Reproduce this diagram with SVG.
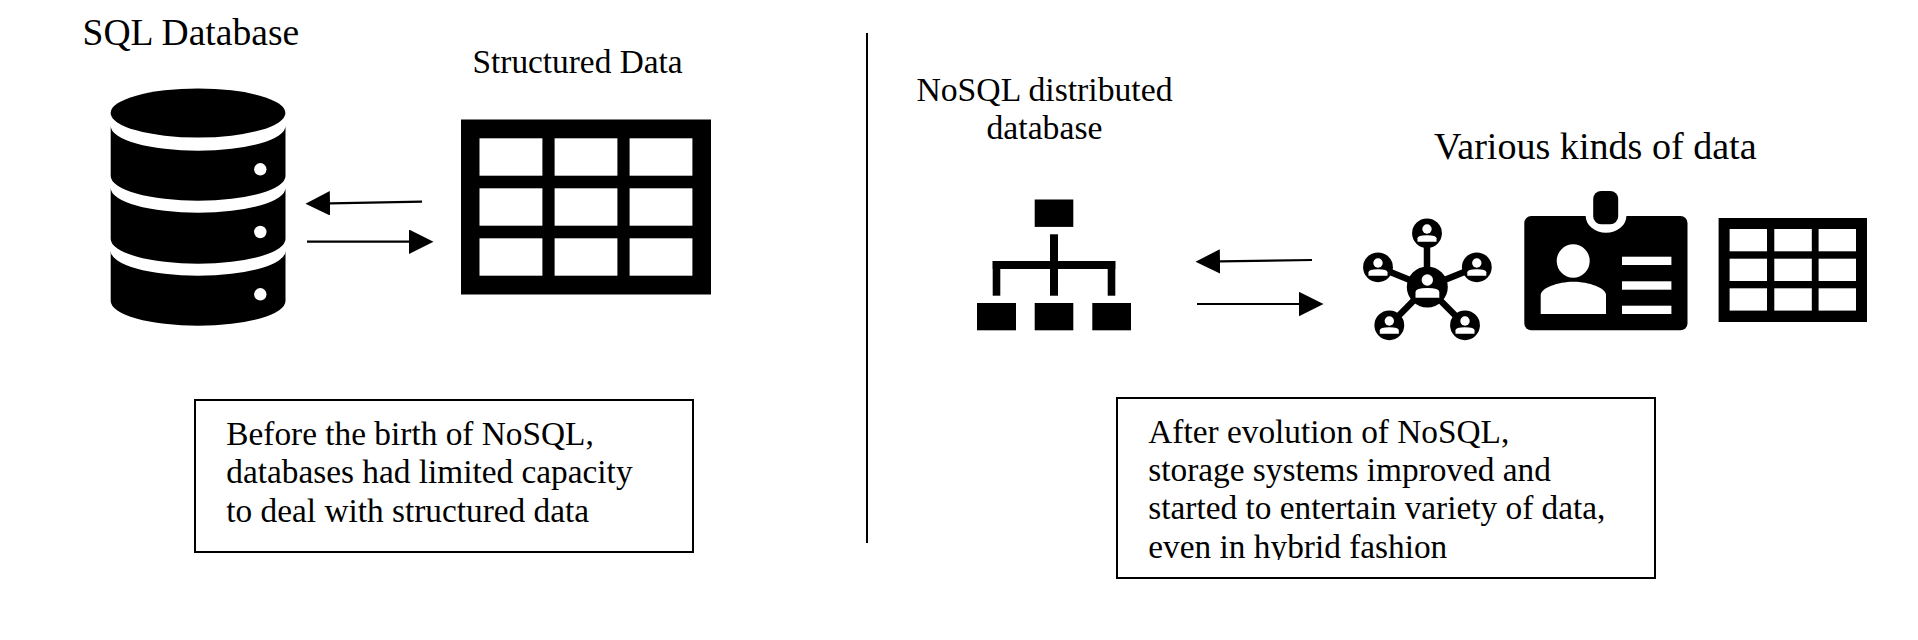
<svg xmlns="http://www.w3.org/2000/svg" width="1918" height="640" viewBox="0 0 1918 640">
<style>
text{font-family:"Liberation Serif","Times New Roman",serif;fill:#000}
.t33{font-size:33.35px}
.t37{font-size:37.6px}
.box{fill:#fff;stroke:#000;stroke-width:2}
.conn{fill:none;stroke:#000;stroke-width:2.2}
.w{fill:#fff}
.k{fill:#000}
.spoke{stroke:#000;stroke-width:6.5}
</style>
<defs>
<marker id="head" markerUnits="userSpaceOnUse" markerWidth="24.5" markerHeight="25" refX="0" refY="12.2" orient="auto"><path d="M0 0L24.5 12.2L0 24.4Z" fill="#000"/></marker>
<g id="dude"><circle class="k" r="14.9"/><circle class="w" cy="-4.3" r="4.7"/><path class="w" d="M-9.5 8.5V5Q-9.5 2 0 2Q9.5 2 9.5 5V8.5Z"/></g>
<clipPath id="lastLine"><rect x="1140" y="530" width="400" height="30"/></clipPath>
</defs>
<rect width="1918" height="640" fill="#fff"/>

<g id="sql-title"><text class="t37" x="82.5" y="44.5">SQL Database</text></g>
<g id="structured-title"><text class="t33" x="472.5" y="72.5">Structured Data</text></g>

<g id="sql-cylinder">
<ellipse class="k" cx="198" cy="113" rx="87.4" ry="24.5"/>
<path class="k" d="M110.7 126A87.4 24.7 0 0 0 285.5 126V176A87.4 24.7 0 0 1 110.7 176Z"/>
<path class="k" d="M110.7 188A87.4 24.7 0 0 0 285.5 188V239A87.4 24.7 0 0 1 110.7 239Z"/>
<path class="k" d="M110.7 251A87.4 24.7 0 0 0 285.5 251V301A87.4 24.7 0 0 1 110.7 301Z"/>
<circle class="w" cx="260.3" cy="169.3" r="6.2"/>
<circle class="w" cx="260.3" cy="232" r="6.2"/>
<circle class="w" cx="260.3" cy="294.3" r="6.2"/>
</g>

<g id="structured-table">
<rect class="k" x="461" y="119.5" width="250" height="175"/>
<rect class="w" x="479.5" y="138.3" width="62.9" height="37.4"/><rect class="w" x="554.6" y="138.3" width="62.8" height="37.4"/><rect class="w" x="629.6" y="138.3" width="62.8" height="37.4"/>
<rect class="w" x="479.5" y="188.3" width="62.9" height="37.4"/><rect class="w" x="554.6" y="188.3" width="62.8" height="37.4"/><rect class="w" x="629.6" y="188.3" width="62.8" height="37.4"/>
<rect class="w" x="479.5" y="238.3" width="62.9" height="37.4"/><rect class="w" x="554.6" y="238.3" width="62.8" height="37.4"/><rect class="w" x="629.6" y="238.3" width="62.8" height="37.4"/>
</g>

<g id="connectors">
<line class="conn" x1="422" y1="201.7" x2="330" y2="203.3" marker-end="url(#head)"/>
<line class="conn" x1="307" y1="241.7" x2="409" y2="241.7" marker-end="url(#head)"/>
<line class="conn" x1="1312" y1="260" x2="1220" y2="261.4" marker-end="url(#head)"/>
<line class="conn" x1="1197" y1="304" x2="1299" y2="304" marker-end="url(#head)"/>
</g>

<g id="divider"><line x1="867" y1="33" x2="867" y2="543" stroke="#000" stroke-width="2"/></g>

<g id="sql-note">
<rect class="box" x="195" y="400" width="498" height="152"/>
<text class="t33" x="226.3" y="444.5">Before the birth of NoSQL,</text>
<text class="t33" x="226.3" y="482.8">databases had limited capacity</text>
<text class="t33" x="226.3" y="522.3">to deal with structured data</text>
</g>

<g id="nosql-title">
<text class="t33" x="1044.5" y="100.7" text-anchor="middle" style="font-size:33.7px">NoSQL distributed</text>
<text class="t33" x="1044.5" y="139" text-anchor="middle" style="font-size:33.7px">database</text>
</g>

<g id="nosql-hierarchy">
<rect class="k" x="1034.7" y="199.5" width="38.6" height="27.4"/>
<rect class="k" x="1050" y="234.3" width="8" height="61.4"/>
<rect class="k" x="992.7" y="261" width="122.6" height="8"/>
<rect class="k" x="992.7" y="261" width="7.6" height="34.7"/>
<rect class="k" x="1107.7" y="261" width="7.6" height="34.7"/>
<rect class="k" x="977" y="303" width="39" height="27.3"/>
<rect class="k" x="1034.7" y="303" width="38.6" height="27.3"/>
<rect class="k" x="1092.3" y="303" width="38.7" height="27.3"/>
</g>

<g id="various-title"><text x="1434" y="159.3" style="font-size:38.1px">Various kinds of data</text></g>

<g id="network">
<line class="spoke" x1="1427" y1="287" x2="1427" y2="233.3"/>
<line class="spoke" x1="1427" y1="287" x2="1378" y2="267"/>
<line class="spoke" x1="1427" y1="287" x2="1476.8" y2="267"/>
<line class="spoke" x1="1427" y1="287" x2="1389.3" y2="325.3"/>
<line class="spoke" x1="1427" y1="287" x2="1465" y2="325.3"/>
<use href="#dude" x="1427" y="233.3"/>
<use href="#dude" x="1378" y="267.3"/>
<use href="#dude" x="1476.8" y="267.3"/>
<use href="#dude" x="1389.3" y="325.3"/>
<use href="#dude" x="1465" y="325.3"/>
<circle class="k" cx="1427.3" cy="287" r="20.5"/>
<circle class="w" cx="1427.3" cy="280" r="5.7"/>
<path class="w" d="M1415.5 297.7V292Q1415.5 288 1427.3 288Q1439.3 288 1439.3 292V297.7Z"/>
</g>

<g id="id-card">
<rect class="k" x="1524.3" y="216" width="163.2" height="114.3" rx="7"/>
<path class="w" d="M1585.7 214V216A20.3 16.7 0 0 0 1606 232.7A20.4 16.7 0 0 0 1626.4 216V214Z"/>
<rect class="k" x="1593.2" y="191" width="25" height="33.3" rx="8"/>
<ellipse class="w" cx="1573.2" cy="261" rx="16.5" ry="16.7"/>
<path class="w" d="M1540.7 314V295C1540.7 288 1558 281.7 1573.3 281.7C1589 281.7 1606 288 1606 295V314Z"/>
<rect class="w" x="1622" y="256.7" width="49.4" height="8.3"/>
<rect class="w" x="1622" y="281.3" width="49.4" height="8.4"/>
<rect class="w" x="1622" y="305.7" width="49.4" height="8.3"/>
</g>

<g id="various-table">
<rect class="k" x="1718.6" y="218" width="148.4" height="104"/>
<rect class="w" x="1729.6" y="229" width="37.4" height="22.3"/><rect class="w" x="1774.3" y="229" width="37.5" height="22.3"/><rect class="w" x="1818.6" y="229" width="37.4" height="22.3"/>
<rect class="w" x="1729.6" y="258.7" width="37.4" height="22.3"/><rect class="w" x="1774.3" y="258.7" width="37.5" height="22.3"/><rect class="w" x="1818.6" y="258.7" width="37.4" height="22.3"/>
<rect class="w" x="1729.6" y="288.3" width="37.4" height="22.3"/><rect class="w" x="1774.3" y="288.3" width="37.5" height="22.3"/><rect class="w" x="1818.6" y="288.3" width="37.4" height="22.3"/>
</g>

<g id="nosql-note">
<rect class="box" x="1117" y="398" width="538" height="180"/>
<text class="t33" x="1148.3" y="442.8">After evolution of NoSQL,</text>
<text class="t33" x="1148.3" y="481.2">storage systems improved and</text>
<text class="t33" x="1148.3" y="519.2">started to entertain variety of data,</text>
<text class="t33" x="1148.3" y="558.2" clip-path="url(#lastLine)">even in hybrid fashion</text>
</g>
</svg>
